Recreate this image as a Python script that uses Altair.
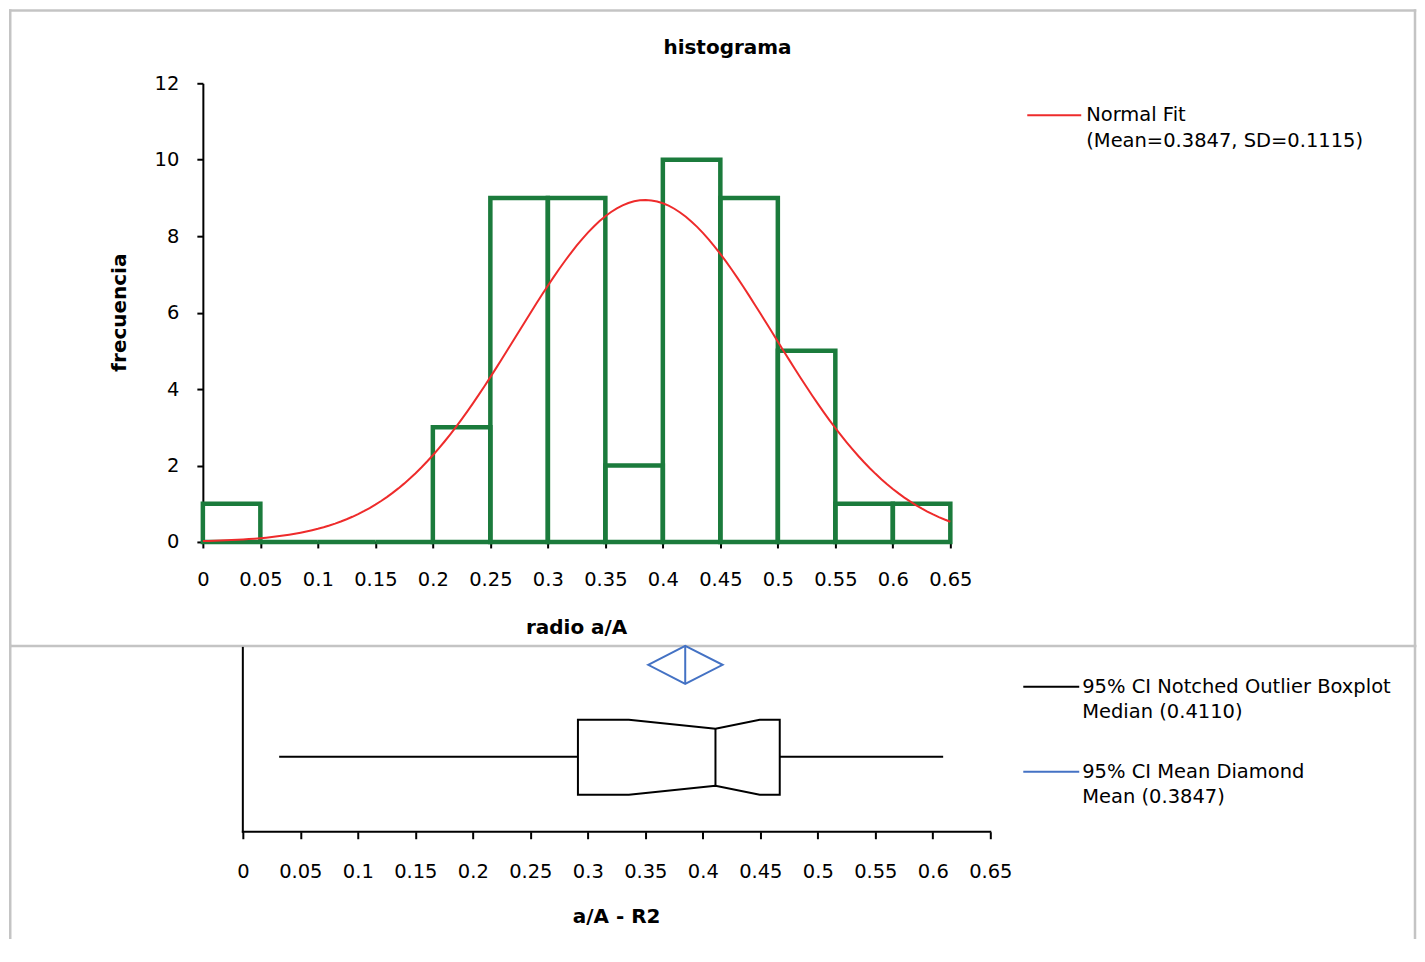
import altair as alt
import pandas as pd

# ---------------- data ----------------
bin_starts = [0.0, 0.05, 0.1, 0.15, 0.2, 0.25, 0.3, 0.35, 0.4, 0.45, 0.5, 0.55, 0.6]
bin_ends = [0.05, 0.1, 0.15, 0.2, 0.25, 0.3, 0.35, 0.4, 0.45, 0.5, 0.55, 0.6, 0.65]
counts = [1, 0, 0, 0, 3, 9, 9, 2, 10, 9, 5, 1, 1]
fit_mean = 0.3847
fit_sd = 0.1115
n_obs = 50
bin_width = 0.05

x_ticks = [0, 0.05, 0.1, 0.15, 0.2, 0.25, 0.3, 0.35, 0.4, 0.45, 0.5, 0.55, 0.6, 0.65]
y_ticks = [0, 2, 4, 6, 8, 10, 12]

# boxplot statistics
whisker_lo = 0.0316
q1 = 0.2914
notch_lo = 0.3357
median = 0.4110
notch_hi = 0.4495
q3 = 0.4669
whisker_hi = 0.609
mean_ci_lo = 0.3525
mean_ci_hi = 0.4172

# ---------------- styles ----------------
FONT = "DejaVu Sans"
GREEN = "#1b7b3c"
RED = "#ee2b2b"
BLUE = "#4472c4"
FRAME = "#c4c4c4"
LBL = 19.5
TTL = 20

# vertical geometry of the box panel (panel units, 0 = axis)
BOX_TOP, BOX_BOT = 112, 37
WAIST_TOP, WAIST_BOT = 103, 46
WHISK_Y = 75
DIA_TOP, DIA_MID, DIA_BOT = 186, 167, 148
PANEL_H = 184

one = pd.DataFrame({"k": [0]})


def hline(x1, x2, y, color="black", w=2.0):
    return alt.Chart(one).mark_rule(color=color, strokeWidth=w, strokeCap="square").encode(
        x=alt.value(x1), x2=alt.value(x2), y=alt.value(y))


def vline(x, y1, y2, color="black", w=2.0):
    return alt.Chart(one).mark_rule(color=color, strokeWidth=w, strokeCap="square").encode(
        x=alt.value(x), y=alt.value(y1), y2=alt.value(y2))


def label(txt, x, y, size=LBL, bold=False, align="left", angle=0):
    return alt.Chart(one).mark_text(
        font=FONT, fontSize=size, fontWeight="bold" if bold else "normal",
        align=align, baseline="middle", angle=angle, color="black"
    ).encode(x=alt.value(x), y=alt.value(y), text=alt.value(txt))


# ---------------- top panel: histogram ----------------
hist_df = pd.DataFrame({"start": bin_starts, "end": bin_ends, "count": counts})

xs_top = alt.Scale(domain=[0, 0.65], nice=False, zero=False)
ys_top = alt.Scale(domain=[0, 12], nice=False)

hist = alt.Chart(hist_df).mark_rect(
    fillOpacity=0, stroke=GREEN, strokeWidth=4.5
).encode(
    x=alt.X("start:Q", scale=xs_top,
            axis=alt.Axis(values=x_ticks, format="~g", title=None, grid=False,
                          domainColor="black", domainWidth=2, tickColor="black",
                          tickWidth=2, tickSize=6, labelPadding=23, labelFont=FONT,
                          labelFontSize=LBL, labelColor="black", labelFlush=False,
                          labelOverlap=False)),
    x2="end:Q",
    y=alt.Y("count:Q", scale=ys_top,
            axis=alt.Axis(values=y_ticks, title=None, grid=False,
                          domainColor="black", domainWidth=2, tickColor="black",
                          tickWidth=2, tickSize=6, labelPadding=18, labelFont=FONT,
                          labelFontSize=LBL, labelColor="black")),
    y2=alt.datum(0),
)

curve = alt.Chart(alt.sequence(0, 0.6525, 0.005, as_="x")).transform_calculate(
    y=f"{n_obs * bin_width} * densityNormal(datum.x, {fit_mean}, {fit_sd})"
).mark_line(color=RED, strokeWidth=2).encode(x="x:Q", y="y:Q")

FL, FR, FT = -192.75, 1213, -72.75

top = alt.layer(
    hline(FL, FR, FT, FRAME, 2.5),
    vline(FL, FT, 563, FRAME, 2.5),
    vline(FR, FT, 563, FRAME, 2.5),
    hline(FL, FR, 563, FRAME, 2.5),
    hist,
    curve,
    label("histograma", 525, -35, TTL, True, "center"),
    label("frecuencia", -83, 229.5, TTL, True, "center", 270),
    label("radio a/A", 374, 545, TTL, True, "center"),
    hline(826, 878, 32, RED, 2),
    label("Normal Fit", 884, 32),
    label("(Mean=0.3847, SD=0.1115)", 884, 58),
).properties(width=748, height=459)

# ---------------- bottom panel: boxplot ----------------
xs_bot = alt.Scale(domain=[-0.034759, 0.65], nice=False, zero=False)
ys_bot = alt.Scale(domain=[0, PANEL_H], nice=False)

whisk_df = pd.DataFrame({"lo": [whisker_lo], "hi": [whisker_hi], "yy": [WHISK_Y]})
whisk = alt.Chart(whisk_df).mark_rule(color="black", strokeWidth=2).encode(
    x=alt.X("lo:Q", scale=xs_bot,
            axis=alt.Axis(values=x_ticks, format="~g", title=None, grid=False,
                          domain=False, tickColor="black", tickWidth=2, tickSize=7,
                          labelPadding=24, labelFont=FONT, labelFontSize=LBL,
                          labelColor="black", labelFlush=False, labelOverlap=False)),
    x2="hi:Q",
    y=alt.Y("yy:Q", scale=ys_bot, axis=None),
)

box_df = pd.DataFrame({
    "x": [q1, notch_lo, median, notch_hi, q3],
    "top": [BOX_TOP, BOX_TOP, WAIST_TOP, BOX_TOP, BOX_TOP],
    "bot": [BOX_BOT, BOX_BOT, WAIST_BOT, BOX_BOT, BOX_BOT],
})
box = alt.Chart(box_df).mark_area(fill="white", stroke="black", strokeWidth=2).encode(
    x="x:Q", y="top:Q", y2="bot:Q")

med_df = pd.DataFrame({"x": [median], "a": [WAIST_BOT], "b": [WAIST_TOP]})
med = alt.Chart(med_df).mark_rule(color="black", strokeWidth=2).encode(
    x="x:Q", y="a:Q", y2="b:Q")

dia_df = pd.DataFrame({
    "x": [mean_ci_lo, fit_mean, mean_ci_hi],
    "top": [DIA_MID, DIA_TOP, DIA_MID],
    "bot": [DIA_MID, DIA_BOT, DIA_MID],
})
dia = alt.Chart(dia_df).mark_area(fillOpacity=0, stroke=BLUE, strokeWidth=2).encode(
    x="x:Q", y="top:Q", y2="bot:Q")

mean_df = pd.DataFrame({"x": [fit_mean], "a": [DIA_BOT], "b": [DIA_TOP]})
mean_line = alt.Chart(mean_df).mark_rule(color=BLUE, strokeWidth=2).encode(
    x="x:Q", y="a:Q", y2="b:Q")

axes_df = pd.DataFrame({"x0": [0.0], "x1": [0.65], "y0": [0], "y1": [PANEL_H]})
x_axis_line = alt.Chart(axes_df).mark_rule(color="black", strokeWidth=2, strokeCap="square").encode(
    x="x0:Q", x2="x1:Q", y="y0:Q")
y_axis_line = alt.Chart(axes_df).mark_rule(color="black", strokeWidth=2, strokeCap="square").encode(
    x="x0:Q", y="y0:Q", y2="y1:Q")

bottom = alt.layer(
    vline(FL, -2, 290, FRAME, 2.5),
    vline(FR, -2, 290, FRAME, 2.5),
    whisk, box, med, dia, mean_line, x_axis_line, y_axis_line,
    label("a/A - R2", 414, 269, TTL, True, "center"),
    hline(822, 876, 39, "black", 2),
    label("95% CI Notched Outlier Boxplot", 880, 39),
    label("Median (0.4110)", 880, 64),
    hline(822, 876, 124, BLUE, 2),
    label("95% CI Mean Diamond", 880, 124),
    label("Mean (0.3847)", 880, 149),
).properties(width=788, height=PANEL_H)

chart = alt.vconcat(top, bottom, spacing=106, bounds="flush").properties(
    padding=0, background="white"
).configure_view(strokeWidth=0)

chart.save("out.html", embed_options={"renderer": "svg", "actions": False})
